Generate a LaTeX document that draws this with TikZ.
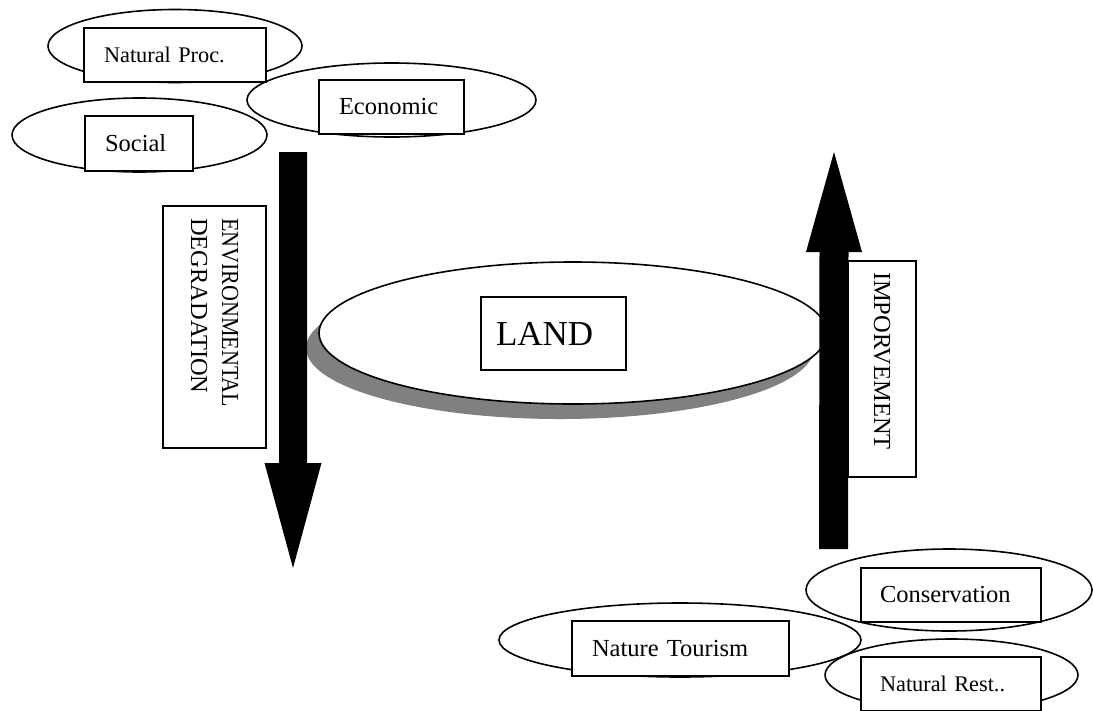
\documentclass[tikz,border=0pt]{standalone}
\usepackage{fontspec}
\usepackage{graphicx}
\setmainfont{Liberation Serif}
\usetikzlibrary{shapes.geometric,calc}
\newcommand\fntA{\fontsize{24.5}{31}\selectfont}
\newcommand\fntB{\fontsize{22.3}{27}\selectfont}
\newcommand\fntC{\fontsize{35}{40}\selectfont}
\definecolor{shadowgray}{HTML}{808080}
\tikzset{
  oval/.style={ellipse, draw, line width=1.6pt, inner sep=0pt},
  tbox/.style={rectangle, draw, fill=white, line width=1.6pt, inner ysep=0pt, inner xsep=20pt, align=left, font=\fntA},
  blockarrow/.style={fill=black},
}
\begin{document}
\begin{tikzpicture}[x=1pt,y=-1pt]
\useasboundingbox (0,0) rectangle (1093,710);
\clip (0,0) rectangle (1093,710);

% top-left causes
\node[oval, minimum width=254pt, minimum height=73pt] (natprocE) at (175,46) {};
\node[oval, minimum width=289pt, minimum height=74pt] (econE) at (391.5,100) {};
\node[oval, minimum width=255pt, minimum height=74pt] (socialE) at (139.5,135) {};
\node[tbox, text width=142pt, minimum height=54pt, font=\fntB] (natproc) at (175,55) {Natural Proc.};
\node[tbox, text width=105pt, minimum height=54pt] (econ) at (391.5,107) {Economic};
\node[tbox, text width=68pt, minimum height=55pt] (social) at (139,143.5) {Social};

% land
\node[ellipse, fill=shadowgray, inner sep=0pt, minimum width=508pt, minimum height=142pt] (landS) at (560,348) {};
\node[oval, fill=white, minimum width=508pt, minimum height=142pt] (landE) at (573,333) {};
\node[tbox, inner xsep=15pt, text width=115pt, minimum height=73pt, font=\fntC] (land) at (553.5,333.5) {LAND};

% degradation arrow
\coordinate (dtop) at (293,152);
\coordinate (dtip) at (293,568);
\fill[blockarrow] ($(dtop)+(-14,0)$) -- ($(dtop)+(14,0)$) -- ($(dtip)+(14,-105)$) -- ($(dtip)+(28.5,-105)$)
  -- (dtip) -- ($(dtip)+(-28.5,-105)$) -- ($(dtip)+(-14,-105)$) -- cycle;
\node[tbox, rotate=-90, inner xsep=12pt, text width=218pt, minimum height=103pt] (env) at (214.5,327)
  {\scalebox{0.9}[1]{ENVIRONMENTAL}\\DEGRADATION};

% improvement arrow
\coordinate (ubot) at (833.5,549);
\coordinate (utip) at (834,152);
\fill[blockarrow] ($(ubot)+(-14.5,0)$) -- ($(ubot)+(14.5,0)$) -- ($(utip)+(14.5,100)$) -- ($(utip)+(28,100)$)
  -- (utip) -- ($(utip)+(-28,100)$) -- ($(utip)+(-14.5,100)$) -- cycle;
\node[tbox, rotate=-90, inner xsep=11pt, text width=194pt, minimum height=68pt] (imp) at (882,369) {IMPORVEMENT};

% bottom actions
\node[oval, minimum width=286pt, minimum height=82pt] (consE) at (949,590) {};
\node[oval, minimum width=362pt, minimum height=74pt] (tourE) at (680,640) {};
\node[oval, minimum width=253pt, minimum height=72pt] (restE) at (951.5,675) {};
\node[tbox, inner xsep=19pt, text width=142pt, minimum height=54pt] (cons) at (951,595) {Conservation};
\node[tbox, text width=177pt, minimum height=55pt] (tour) at (680.5,648.5) {Nature Tourism};
\node[tbox, inner xsep=19pt, text width=142pt, minimum height=54pt, font=\fntB] (rest) at (951,684) {Natural Rest..};
\end{tikzpicture}
\end{document}
